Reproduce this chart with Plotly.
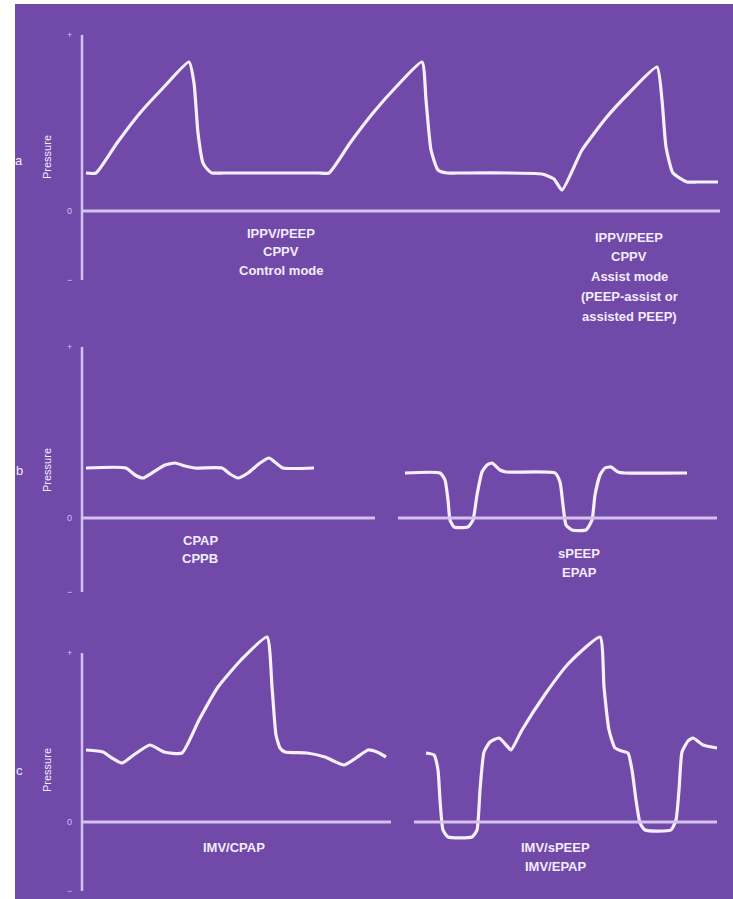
import plotly.graph_objects as go

# ---------------- data (time in arbitrary units, pressure relative to 0) -------------
# Panel a: IPPV/PEEP (control mode, then assist mode)
a_time = [0.4, 1.4, 3.5, 5.8, 8.1, 10.7, 11.2, 11.6, 12.1, 12.6, 13.0, 14.2, 23.6, 24.7,
          26.8, 29.1, 31.4, 34.0, 34.4, 34.9, 35.6, 36.5, 37.6, 46.0, 47.2, 48.0, 50.0,
          52.4, 54.7, 57.5, 58.0, 58.4, 59.1, 60.5, 61.5, 63.6]
a_pressure = [3.8, 3.8, 6.8, 9.8, 12.3, 14.9, 12.8, 7.8, 4.8, 4.1, 3.8, 3.8, 3.8, 3.8,
              6.8, 9.8, 12.4, 14.9, 11.1, 6.1, 4.1, 3.8, 3.8, 3.7, 3.2, 2.1, 6.1,
              9.3, 11.8, 14.4, 11.1, 6.4, 3.8, 2.9, 2.9, 2.9]

# Panel b left: CPAP / CPPB
b1_time = [0.4, 4.4, 5.3, 6.1, 7.0, 8.3, 9.3, 10.3, 11.3, 14.0, 14.8, 15.6, 16.6, 17.8,
           18.7, 19.4, 20.1, 23.2]
b1_pressure = [5.0, 5.0, 4.3, 4.0, 4.5, 5.3, 5.5, 5.2, 5.0, 5.0, 4.4, 4.0, 4.5, 5.5,
               6.0, 5.5, 5.0, 5.0]
# Panel b right: sPEEP / EPAP
b2_time = [32.3, 35.8, 36.3, 36.6, 36.8, 37.2, 38.6, 39.1, 39.5, 40.0, 40.5, 41.0, 41.8,
           42.4, 47.3, 47.8, 48.1, 48.4, 49.0, 50.4, 51.0, 51.3, 51.8, 52.3, 52.9, 53.6,
           54.3, 60.5]
b2_pressure = [4.5, 4.5, 3.8, 1.8, -0.2, -0.9, -0.9, -0.2, 2.3, 4.6, 5.3, 5.5, 4.8,
               4.6, 4.5, 3.6, 1.3, -0.7, -1.2, -1.2, -0.2, 2.3, 4.3, 5.0, 5.1, 4.6,
               4.5, 4.5]

# Panel c left: IMV/CPAP
c1_time = [0.4, 2.1, 3.0, 4.0, 5.3, 6.8, 8.2, 10.0, 11.7, 13.6, 15.9, 18.5, 19.0, 19.4,
           19.8, 20.3, 22.5, 24.3, 26.2, 27.4, 28.6, 29.5, 30.4]
c1_pressure = [7.2, 7.0, 6.4, 5.9, 6.8, 7.7, 7.0, 6.9, 10.2, 13.5, 16.2, 18.5, 13.5, 8.7,
               7.4, 7.0, 6.9, 6.5, 5.7, 6.4, 7.2, 7.0, 6.5]
# Panel c right: IMV/sPEEP / IMV/EPAP
c2_time = [34.4, 35.2, 35.6, 35.8, 36.1, 36.6, 39.0, 39.5, 39.8, 40.2, 40.8, 41.7, 42.5,
           42.9, 44.0, 46.4, 48.7, 51.8, 52.2, 52.7, 53.3, 54.0, 54.6, 55.0, 55.4, 55.8,
           56.3, 58.9, 59.4, 59.7, 60.0, 60.6, 61.1, 62.1, 63.5]
c2_pressure = [6.9, 6.7, 5.2, 2.2, -0.8, -1.5, -1.5, -0.8, 3.2, 7.0, 8.0, 8.4, 7.6,
               7.2, 9.2, 12.9, 15.9, 18.5, 13.5, 9.2, 7.4, 7.1, 6.9, 5.2, 2.2, -0.1,
               -0.8, -0.8, 0.2, 3.2, 7.0, 8.1, 8.4, 7.7, 7.4]

# axis extents (pressure) and zero-line segments (time) per panel
axis_top = [17.6, 17.1, 16.9]
axis_bottom = [-6.9, -7.4, -6.9]
zero_segments = [[(0, 63.8)], [(0, 29.3), (31.6, 63.5)], [(0, 30.9), (33.2, 63.5)]]

panel_letters = ["a", "b", "c"]
tick_labels = ["+", "0", "−"]
y_title = "Pressure"

labels_a_left = ["IPPV/PEEP", "CPPV", "Control mode"]
labels_a_right = ["IPPV/PEEP", "CPPV", "Assist mode", "(PEEP-assist or", "assisted PEEP)"]
labels_b_left = ["CPAP", "CPPB"]
labels_b_right = ["sPEEP", "EPAP"]
labels_c_left = ["IMV/CPAP"]
labels_c_right = ["IMV/sPEEP", "IMV/EPAP"]

# ---------------- layout geometry -------------
W, H = 733, 899
BG = "#7049a9"
WAVE = "#f6efff"
AXIS = "#d3c1f0"
TEXT = "#f3ecff"
FONT = "Liberation Sans, Arial, sans-serif"

# panel bands in pixels (top, bottom) and pixel row of zero line; 10 px per unit
bands = [(0, 330, 211), (330, 630, 518), (630, 899, 822)]
PX = 10.0
x_axis_px = 82
x_range = [(0 - x_axis_px) / PX, (W - x_axis_px) / PX]

fig = go.Figure()
layout_axes = {}
for i, (top, bot, zero) in enumerate(bands):
    n = "" if i == 0 else str(i + 1)
    layout_axes["xaxis" + n] = dict(domain=[0, 1], range=x_range, visible=False,
                                    anchor="y" + n, fixedrange=True)
    layout_axes["yaxis" + n] = dict(domain=[1 - bot / H, 1 - top / H],
                                    range=[(zero - bot) / PX, (zero - top) / PX],
                                    visible=False, anchor="x" + n, fixedrange=True)

series = [(a_time, a_pressure, 0), (b1_time, b1_pressure, 1), (b2_time, b2_pressure, 1),
          (c1_time, c1_pressure, 2), (c2_time, c2_pressure, 2)]
for t, p, k in series:
    n = "" if k == 0 else str(k + 1)
    fig.add_trace(go.Scatter(x=t, y=p, mode="lines", xaxis="x" + n, yaxis="y" + n,
                             line=dict(color=WAVE, width=3.2, shape="spline", smoothing=0.5),
                             hoverinfo="skip", showlegend=False))

shapes = []
annotations = []
for k in range(3):
    n = "" if k == 0 else str(k + 1)
    xr, yr = "x" + n, "y" + n
    shapes.append(dict(type="line", xref=xr, yref=yr, x0=0, x1=0,
                       y0=axis_bottom[k], y1=axis_top[k],
                       line=dict(color=AXIS, width=2.5)))
    for s0, s1 in zero_segments[k]:
        shapes.append(dict(type="line", xref=xr, yref=yr, x0=s0, x1=s1, y0=0, y1=0,
                           line=dict(color=AXIS, width=3)))
    for lab, yv in zip(tick_labels, [axis_top[k], 0, axis_bottom[k]]):
        annotations.append(dict(xref=xr, yref=yr, x=-1.3, y=yv, text=lab, showarrow=False,
                                font=dict(family=FONT, size=9, color=AXIS),
                                xanchor="center", yanchor="middle"))
    annotations.append(dict(xref=xr, yref=yr, x=-3.5, y=[5.4, 4.8, 5.2][k], text=y_title,
                            textangle=-90, showarrow=False,
                            font=dict(family=FONT, size=11, color=TEXT),
                            xanchor="center", yanchor="middle"))
    annotations.append(dict(xref=xr, yref=yr, x=-6.3, y=[5.1, 4.8, 5.2][k],
                            text=panel_letters[k], showarrow=False,
                            font=dict(family=FONT, size=13, color=TEXT),
                            xanchor="center", yanchor="middle"))


def add_block(lines, panel, xc, y0, step):
    n = "" if panel == 0 else str(panel + 1)
    for j, s in enumerate(lines):
        annotations.append(dict(xref="x" + n, yref="y" + n, x=xc, y=y0 - j * step,
                                text="<b>%s</b>" % s, showarrow=False,
                                font=dict(family=FONT, size=13, color=TEXT),
                                xanchor="center", yanchor="middle"))


add_block(labels_a_left, 0, 19.9, -2.2, 1.85)
add_block(labels_a_right, 0, 54.7, -2.6, 1.98)
add_block(labels_b_left, 1, 11.8, -2.2, 1.8)
add_block(labels_b_right, 1, 49.7, -3.5, 1.9)
add_block(labels_c_left, 2, 15.2, -2.5, 1.9)
add_block(labels_c_right, 2, 47.3, -2.5, 1.9)

# white scan borders
shapes.append(dict(type="rect", xref="paper", yref="paper", x0=0, x1=15 / W, y0=0, y1=1,
                   fillcolor="white", line=dict(width=0), layer="above"))
shapes.append(dict(type="rect", xref="paper", yref="paper", x0=0, x1=1, y0=1 - 4 / H, y1=1,
                   fillcolor="white", line=dict(width=0), layer="above"))

fig.update_layout(width=W, height=H, autosize=False,
                  margin=dict(l=0, r=0, t=0, b=0, pad=0),
                  paper_bgcolor=BG, plot_bgcolor="rgba(0,0,0,0)",
                  shapes=shapes, annotations=annotations, showlegend=False,
                  **layout_axes)

fig.write_html("out.html", config={"displayModeBar": False},
               post_script="document.body.style.margin='0px';"
                           "document.body.style.padding='0px';"
                           "document.body.style.overflow='hidden';")
